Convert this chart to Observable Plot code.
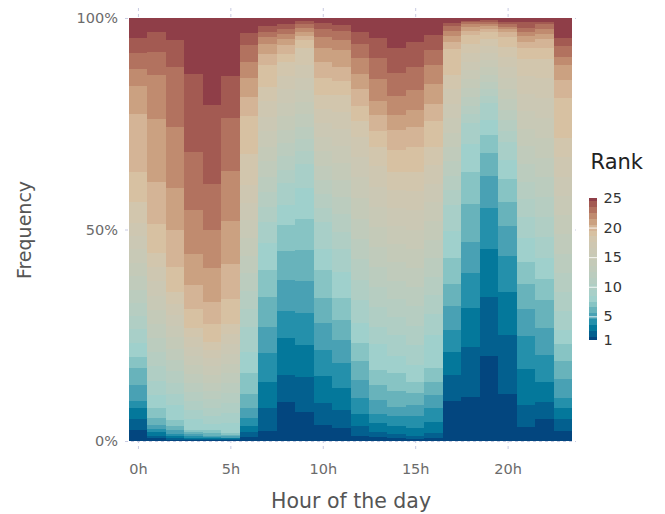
<!DOCTYPE html>
<html>
<head>
<meta charset="utf-8">
<script src="https://cdn.jsdelivr.net/npm/d3@7"></script>
<script src="https://cdn.jsdelivr.net/npm/@observablehq/plot@0.6"></script>
<style>
  html, body { margin: 0; padding: 0; background: #fff; }
  #wrap { position: relative; width: 665px; height: 514px; overflow: hidden; }
  #legend { position: absolute; left: 589px; top: 150px; width: 76px; height: 200px; }
  svg { max-width: none !important; }
</style>
</head>
<body>
<div id="wrap"><div id="main"></div><div id="legend"></div></div>
<script>
// ---- data ----
const hours = [0,1,2,3,4,5,6,7,8,9,10,11,12,13,14,15,16,17,18,19,20,21,22,23];
const ranks = [1,2,3,4,5,6,7,8,9,10,11,12,13,14,15,16,17,18,19,20,21,22,23,24,25];
const xTicks = [0,5,10,15,20];
const yTicks = [0,0.5,1];
const legendTicks = [1,5,10,15,20,25];
const xTitle = "Hour of the day";
const yTitle = "Frequency";
const legendTitle = "Rank";

// share (%) of each rank 1..25, per hour
const h00 = [2.6,2.5,2.6,1.8,3.7,4.0,2.7,3.2,3.3,3.1,3.2,3.0,3.2,3.1,3.3,3.1,3.1,5.1,7.1,13.6,6.6,4.0,3.9,3.4,4.8];
const h01 = [0.6,0.7,0.8,0.8,0.9,1.7,2.3,3.2,3.3,3.4,3.3,3.4,3.3,3.4,3.3,3.4,3.3,3.4,6.9,9.8,15.0,10.4,5.5,4.8,3.2];
const h02 = [0.3,0.3,0.5,0.6,0.9,1.0,1.4,3.5,2.7,2.6,2.7,2.7,2.6,2.7,2.7,2.7,2.6,2.8,5.9,8.7,10.0,14.4,14.2,6.3,5.2];
const h03 = [0.2,0.2,0.3,0.4,0.5,0.5,0.6,2.4,2.2,2.1,2.2,2.1,2.2,2.1,2.2,2.1,2.2,2.1,4.6,5.7,7.3,10.4,13.8,18.4,13.2];
const h04 = [0.2,0.2,0.3,0.3,0.3,0.5,0.8,1.4,2.0,1.9,2.0,1.9,2.0,1.9,2.0,2.0,1.9,1.9,4.2,5.1,8.0,9.1,10.9,18.6,20.6];
const h05 = [0.2,0.2,0.2,0.2,0.3,0.3,0.5,2.4,2.3,2.4,2.3,2.3,2.4,2.3,2.3,2.4,2.3,2.3,6.0,8.2,10.2,11.9,12.4,10.0,13.7];
const h06 = [1.0,1.2,1.4,1.8,2.3,3.4,4.9,5.0,6.0,4.2,4.2,4.2,4.2,4.2,4.2,4.1,4.2,7.3,9.1,4.5,4.5,3.8,3.9,2.8,3.6];
const h07 = [2.4,5.3,6.3,6.7,6.3,7.1,6.3,6.3,5.1,3.6,3.5,3.6,3.6,3.5,3.6,3.5,3.6,3.5,5.1,2.6,2.3,1.6,1.2,1.5,1.9];
const h08 = [9.3,6.3,8.8,6.3,7.4,6.7,6.2,4.9,5.0,3.2,3.2,3.1,3.2,3.2,3.2,3.1,3.2,3.2,2.1,2.0,1.4,1.3,1.1,1.1,1.5];
const h09 = [6.9,8.3,7.5,7.5,7.6,7.4,7.4,7.1,5.9,2.9,2.9,2.9,2.9,2.9,2.9,2.9,3.0,3.9,2.0,1.0,1.0,0.9,0.9,0.8,0.6];
const h10 = [3.8,5.3,6.3,6.1,6.3,6.1,6.5,5.1,6.3,3.3,3.4,3.3,3.3,3.4,3.3,3.3,3.4,3.3,3.9,4.0,3.1,2.8,1.8,1.3,1.3];
const h11 = [3.0,4.3,5.2,5.9,5.5,4.7,5.3,6.1,5.5,4.0,4.1,4.0,4.0,4.1,4.0,4.0,4.1,4.0,3.2,3.5,3.9,2.4,2.1,1.4,1.7];
const h12 = [1.3,2.3,2.9,3.7,4.2,4.4,4.3,4.7,5.5,4.8,4.9,4.8,4.8,4.9,4.8,4.8,4.8,3.8,3.6,3.9,3.5,3.8,3.3,3.0,3.2];
const h13 = [1.0,1.2,2.0,2.3,3.2,3.5,3.6,6.2,4.0,4.7,4.8,4.7,4.7,4.8,4.7,4.7,4.8,4.7,3.7,3.7,3.4,5.1,5.1,4.7,4.7];
const h14 = [0.6,1.0,2.0,2.2,2.3,3.7,4.2,4.2,4.8,4.3,4.3,4.3,4.3,4.3,4.3,4.3,4.3,4.3,5.1,4.7,3.6,4.5,5.3,6.1,7.0];
const h15 = [0.5,0.8,1.7,2.8,2.6,2.9,2.7,4.0,4.7,4.6,4.5,4.6,4.5,4.6,4.5,4.6,4.5,4.6,5.9,4.7,3.9,4.8,5.5,5.9,5.6];
const h16 = [0.8,1.0,2.6,3.3,3.2,3.1,3.3,7.7,5.0,4.4,4.4,4.4,4.4,4.4,4.4,4.4,4.4,4.4,6.1,3.9,4.7,4.5,3.7,3.5,4.0];
const h17 = [9.5,6.1,5.4,5.2,5.6,5.2,6.3,6.3,6.3,3.4,3.4,3.4,3.4,3.4,3.4,3.4,3.4,3.4,6.2,1.6,1.5,1.1,1.1,0.8,1.2];
const h18 = [10.5,11.8,9.1,8.2,7.4,9.0,7.7,6.4,5.0,2.1,2.1,2.0,2.1,2.1,2.1,2.0,2.1,2.1,2.1,1.0,0.9,0.7,0.5,0.4,0.6];
const h19 = [20.2,13.9,11.4,9.5,7.7,5.5,4.1,3.6,3.9,1.7,1.7,1.7,1.7,1.7,1.7,1.7,1.7,1.7,1.6,0.8,0.6,0.5,0.5,0.5,0.4];
const h20 = [11.0,14.1,10.2,8.5,7.1,5.7,5.3,4.5,4.4,2.5,2.5,2.5,2.5,2.5,2.5,2.5,2.5,2.4,2.4,1.1,0.7,0.5,0.6,0.6,0.9];
const h21 = [3.4,5.1,8.5,7.9,6.3,5.8,5.4,5.7,4.9,4.2,4.1,4.2,4.2,4.1,4.2,4.1,4.2,4.1,2.4,1.5,1.5,1.0,0.9,1.3,1.0];
const h22 = [5.2,4.1,4.7,6.3,6.5,6.5,5.0,4.9,5.1,4.7,4.7,4.7,4.6,4.7,4.7,4.7,4.7,4.6,2.4,2.2,1.3,1.1,1.1,0.6,0.9];
const h23 = [2.4,2.8,2.5,2.5,4.5,4.2,4.0,3.3,4.5,4.5,4.6,4.5,4.6,4.5,4.6,4.5,4.6,4.5,9.4,4.3,3.6,1.9,2.6,1.9,4.7];
const shares = [h00,h01,h02,h03,h04,h05,h06,h07,h08,h09,h10,h11,h12,h13,h14,h15,h16,h17,h18,h19,h20,h21,h22,h23];

// colour of each rank 1..25
const palette = ["#03467f","#03608f","#04789b","#2490ab","#49a1b4","#68b3bb","#87c4c4","#9fd0cc","#a8cfc8",
  "#b0cec4","#b6cdc1","#bbccbe","#c0cbbb","#c4cab8","#c8c9b6","#cbc8b4","#cec7b1","#d2c6ad","#d7c1a2",
  "#d4b496","#cba181","#c08b6f","#b2725f","#a35a52","#8f3e48"];

// ---- build table (normalized stack) ----
const rows = [];
hours.forEach((h, i) => {
  const vals = shares[i];
  const total = d3.sum(vals);
  let acc = 0;
  ranks.forEach((r, j) => {
    const y1 = acc / total;
    acc += vals[j];
    rows.push({hour: h, rank: r, x1: h - 0.5, x2: h + 0.5, y1, y2: acc / total});
  });
});

const colorScale = {type: "linear", domain: [1, 25], interpolate: d3.piecewise(d3.interpolateRgb, palette)};
const font = "'DejaVu Sans', sans-serif";
const gridStyle = {stroke: "#c9cce2", strokeOpacity: 1, strokeWidth: 1, strokeDasharray: "3,3"};

const chart = Plot.plot({
  width: 665, height: 514,
  marginLeft: 125, marginRight: 89, marginTop: 8, marginBottom: 63,
  style: {fontFamily: font, background: "white", overflow: "visible"},
  x: {domain: [-0.7, 23.7]},
  y: {domain: [-0.0236, 1.0236]},
  color: colorScale,
  marks: [
    Plot.gridX(xTicks, gridStyle),
    Plot.gridY(yTicks, gridStyle),
    Plot.rect(rows, {x1: "x1", x2: "x2", y1: "y1", y2: "y2", fill: "rank", shapeRendering: "crispEdges"}),
    Plot.axisX(xTicks, {tickSize: 0, tickPadding: 12, tickFormat: d => d + "h", fontSize: 14.5, fill: "#6b6b6b", label: null}),
    Plot.axisY(yTicks, {tickSize: 0, tickPadding: 7.5, tickFormat: d3.format(".0%"), fontSize: 14.5, fill: "#6b6b6b", label: null}),
    Plot.text([xTitle], {text: d => d, frameAnchor: "bottom", textAnchor: "middle", lineAnchor: "middle", dy: 49.5, fontSize: 20.5, fill: "#555"}),
    Plot.text([yTitle], {text: d => d, frameAnchor: "left", textAnchor: "middle", lineAnchor: "middle", dx: -101, rotate: -90, fontSize: 19, fill: "#555"})
  ]
});
document.getElementById("main").appendChild(chart);

const legend = Plot.plot({
  width: 76, height: 200,
  marginLeft: 0, marginRight: 68, marginTop: 48, marginBottom: 10,
  style: {fontFamily: font, background: "transparent", overflow: "visible"},
  x: {domain: [0, 1], axis: null},
  y: {domain: [1, 25], axis: null},
  color: colorScale,
  marks: [
    Plot.rect(ranks, {x1: 0, x2: 1, y1: r => Math.max(1, r - 0.5), y2: r => Math.min(25, r + 0.5), fill: r => r, shapeRendering: "crispEdges"}),
    Plot.ruleY(legendTicks.filter(t => t > 1 && t < 25), {x1: 0, x2: 1, stroke: "white", strokeOpacity: 0.85}),
    Plot.axisY(legendTicks, {anchor: "right", tickSize: 0, tickPadding: 6, fontSize: 14.5, fill: "#333", label: null}),
    Plot.text([legendTitle], {text: d => d, frameAnchor: "top-left", textAnchor: "start", lineAnchor: "middle", dx: 1, dy: -36, fontSize: 21, fill: "#222"})
  ]
});
document.getElementById("legend").appendChild(legend);
</script>
</body>
</html>
